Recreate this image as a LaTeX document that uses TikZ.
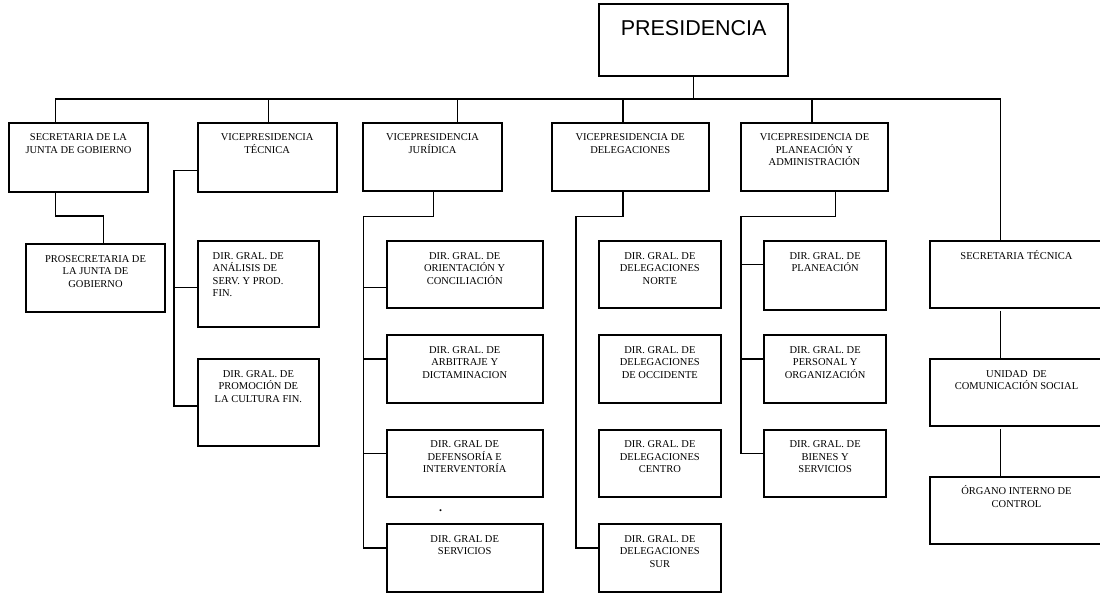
\documentclass[tikz,border=0pt]{standalone}
\usepackage{fontspec}
\setmainfont{Liberation Serif}
\newfontfamily\presfont{Liberation Sans}
\tikzset{
  box/.style={draw, line width=1.7pt, inner sep=0pt, outer sep=0pt, anchor=north west,
              font=\fontsize{10.5}{12.5}\selectfont},
  conn/.style={draw, line width=1.5pt},
  lbl/.style={inner sep=0pt, font=\fontsize{12}{12.5}\bfseries\selectfont}
}
% name, x, y, width, height, alignment, text
\newcommand\orgbox[7]{%
  \node[box] (#1) at (#2,#3) {\parbox[c][#5pt][t]{#4pt}{#6\rule{0pt}{18pt}#7}};}
\newcommand\lefttext{\raggedright\leftskip=15pt\relax}
\begin{document}
\begin{tikzpicture}[x=1pt,y=-1pt]
\useasboundingbox (0,0) rectangle (1100,594);
\clip (0,0) rectangle (1100,594);

% Presidencia
\node[box] (pres) at (599,4.3) {\parbox[c][71.4pt][t]{189.3pt}{\centering\presfont\fontsize{21.5}{24}\selectfont\rule{0pt}{31.5pt}PRESIDENCIA}};

% first level
\orgbox{sjg}{9}{122.7}{139}{69.6}{\centering}{SECRETARIA DE LA\\JUNTA DE GOBIERNO}
\orgbox{vpt}{197.7}{122.7}{139}{69.6}{\centering}{VICEPRESIDENCIA\\TÉCNICA}
\orgbox{vpj}{362.7}{122.7}{139.6}{68.3}{\centering}{VICEPRESIDENCIA\\JURÍDICA}
\orgbox{vpd}{551.7}{122.7}{157}{68.3}{\centering}{VICEPRESIDENCIA DE\\DELEGACIONES}
\orgbox{vpp}{740.7}{122.7}{147.6}{68.3}{\centering}{VICEPRESIDENCIA DE\\PLANEACIÓN Y\\ADMINISTRACIÓN}

% second level
\orgbox{pros}{26}{244.3}{139}{67.7}{\centering}{PROSECRETARIA DE\\LA JUNTA DE\\GOBIERNO}
\orgbox{ana}{197.7}{241}{121.3}{86.3}{\lefttext}{DIR. GRAL. DE\\ANÁLISIS DE\\SERV. Y PROD.\\FIN.}
\orgbox{prom}{197.7}{359}{121.3}{86.7}{\centering}{DIR. GRAL. DE\\PROMOCIÓN DE\\LA CULTURA FIN.}

\orgbox{ori}{386.7}{241}{156}{67.3}{\centering}{DIR. GRAL. DE\\ORIENTACIÓN Y\\CONCILIACIÓN}
\orgbox{arb}{386.7}{335.3}{156}{67.4}{\centering}{DIR. GRAL. DE\\ARBITRAJE Y\\DICTAMINACION}
\orgbox{def}{386.7}{429.7}{156}{67.3}{\centering}{DIR. GRAL DE\\DEFENSORÍA E\\INTERVENTORÍA}
\orgbox{serv}{386.7}{524.3}{156}{68}{\centering}{DIR. GRAL DE\\SERVICIOS}

\orgbox{dn}{599}{241}{121.7}{67.3}{\centering}{DIR. GRAL. DE\\DELEGACIONES\\NORTE}
\orgbox{docc}{599}{335.3}{121.7}{67.4}{\centering}{DIR. GRAL. DE\\DELEGACIONES\\DE OCCIDENTE}
\orgbox{dc}{599}{429.7}{121.7}{67.3}{\centering}{DIR. GRAL. DE\\DELEGACIONES\\CENTRO}
\orgbox{ds}{599}{524.3}{121.7}{68}{\centering}{DIR. GRAL. DE\\DELEGACIONES\\SUR}

\orgbox{plan}{764.3}{241}{121.7}{69}{\centering}{DIR. GRAL. DE\\PLANEACIÓN}
\orgbox{pers}{764.3}{335.3}{121.7}{67.4}{\centering}{DIR. GRAL. DE\\PERSONAL Y\\ORGANIZACIÓN}
\orgbox{bien}{764.3}{429.7}{121.7}{67.6}{\centering}{DIR. GRAL. DE\\BIENES Y\\SERVICIOS}

\orgbox{st}{930}{241}{173}{67.3}{\centering}{SECRETARIA TÉCNICA}
\orgbox{ucs}{930}{359}{173}{67}{\centering}{UNIDAD\ \ DE\\COMUNICACIÓN SOCIAL}
\orgbox{oic}{930}{476.7}{173}{67.6}{\centering}{ÓRGANO INTERNO DE\\CONTROL}

\node[lbl, anchor=base] (dot) at (440.7,511.5) {.};

% bus
\coordinate (b1) at (55.7,99);
\coordinate (b2) at (268.7,99);
\coordinate (b3) at (457.3,99);
\coordinate (b4) at (623,99);
\coordinate (b5) at (812,99);
\coordinate (b6) at (1000.7,99);
\draw[conn] (pres.south) -- (pres.south |- b1);
\draw[conn] (b1 |- sjg.north) -- (b1) -- (b6) -- (b6 |- st.north);
\draw[conn] (b2) -- (b2 |- vpt.north);
\draw[conn] (b3) -- (b3 |- vpj.north);
\draw[conn] (b4) -- (b4 |- vpd.north);
\draw[conn] (b5) -- (b5 |- vpp.north);

% secretaria de la junta
\coordinate (e1) at (55.7,216);
\coordinate (e2) at (103.3,216);
\draw[conn] (e1 |- sjg.south) -- (e1) -- (e2) -- (e2 |- pros.north);

% vicepresidencia tecnica
\coordinate (t1) at (174,170.3);
\draw[conn] (t1 -| vpt.west) -- (t1) |- ([yshift=-3.6pt]prom.west);
\draw[conn] ([yshift=-3.5pt]ana.west) -| (t1);

% vicepresidencia juridica
\coordinate (j1) at (433.7,216.7);
\coordinate (j2) at (363.3,216.7);
\draw[conn] (j1 |- vpj.south) -- (j1) -- (j2) |- ([yshift=10.3pt]serv.west);
\draw[conn] ([yshift=-13pt]ori.west) -| (j2);
\draw[conn] ([yshift=10pt]arb.west) -| (j2);
\draw[conn] ([yshift=10pt]def.west) -| (j2);

% vicepresidencia de delegaciones
\coordinate (k1) at (623,216.7);
\coordinate (k2) at (576,216.7);
\draw[conn] (k1 |- vpd.south) -- (k1) -- (k2) |- ([yshift=10.3pt]ds.west);

% vicepresidencia de planeacion
\coordinate (p1) at (835.3,216.7);
\coordinate (p2) at (741,216.7);
\draw[conn] (p1 |- vpp.south) -- (p1) -- (p2) |- ([yshift=10.2pt]bien.west);
\draw[conn] ([yshift=11.2pt]plan.west) -| (p2);
\draw[conn] ([yshift=10pt]pers.west) -| (p2);

% secretaria tecnica
\draw[conn, shorten <=2.5pt] (b6 |- st.south) -- (b6 |- ucs.north);
\draw[conn, shorten <=3pt] (b6 |- ucs.south) -- (b6 |- oic.north);
\end{tikzpicture}
\end{document}
